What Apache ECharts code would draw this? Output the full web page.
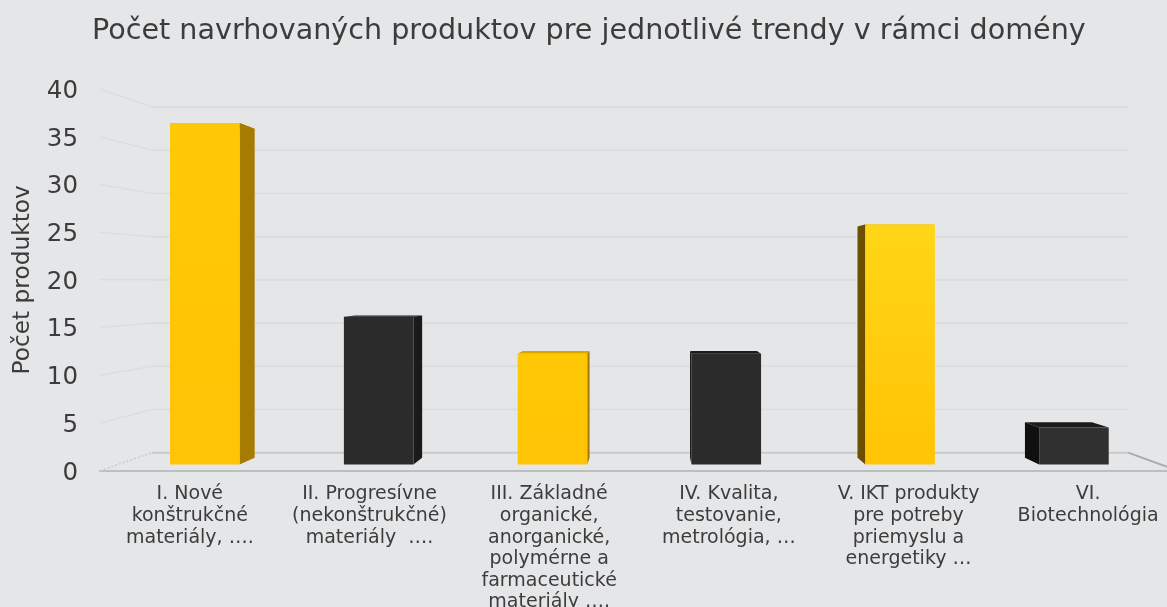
<!DOCTYPE html>
<html>
<head>
<meta charset="utf-8">
<style>
  html, body { margin: 0; padding: 0; background: #e5e6e8; }
  #chart { width: 1167px; height: 607px; }
</style>
<script src="https://cdn.jsdelivr.net/npm/echarts@6/dist/echarts.min.js"></script>
</head>
<body>
<div id="chart"></div>
<script>
const categories = [
  'I. Nové\nkonštrukčné\nmateriály, ….',
  'II. Progresívne\n(nekonštrukčné)\nmateriály  ….',
  'III. Základné\norganické,\nanorganické,\npolymérne a\nfarmaceutické\nmateriály ….',
  'IV. Kvalita,\ntestovanie,\nmetrológia, …',
  'V. IKT produkty\npre potreby\npriemyslu a\nenergetiky …',
  'VI.\nBiotechnológia'
];
const productCounts = [37, 16, 12, 12, 26, 4];
const yTicks = [0, 5, 10, 15, 20, 25, 30, 35, 40];

const fontName = 'DejaVu Sans';

// perspective of the fake 3d box (excel style), grid is the front plane
const vanishX = 651;
const vanishY = 279.85;
const backWall = 0.9056;
const barFront = 0.9675;
const barBack = 0.932;
const barWidth = 0.4;

function project(p, s) {
  return [vanishX + (p[0] - vanishX) * s, vanishY + (p[1] - vanishY) * s];
}

function renderWalls(params, api) {
  const v = api.value(0);
  const box = params.coordSys;
  const y = api.coord([0, v])[1];
  const left = project([box.x, y], backWall);
  const right = project([box.x + box.width, y], backWall);
  const lineColor = v === 0 ? '#c9cacb' : '#dcddde';
  const children = [
    { type: 'line', shape: { x1: left[0], y1: left[1], x2: right[0], y2: right[1] },
      style: { stroke: lineColor, lineWidth: 2 } },
    { type: 'line', shape: { x1: box.x, y1: y, x2: left[0], y2: left[1] },
      style: { stroke: v === 0 ? '#c9cacb' : '#dcddde', lineWidth: 1.5, lineDash: v === 0 ? [2, 2] : null } }
  ];
  if (v === 0) {
    children.push({ type: 'line', shape: { x1: right[0], y1: right[1], x2: box.x + box.width, y2: y },
      style: { stroke: '#a9aaab', lineWidth: 2 } });
  }
  return { type: 'group', children: children };
}

function poly(points, fill) {
  return { type: 'polygon', shape: { points: points }, style: { fill: fill } };
}

function renderBar(params, api) {
  const i = api.value(0);
  const center = api.coord([i, 0]);
  const top = api.coord([i, api.value(1)]);
  const half = api.size([1, 0])[0] * barWidth / 2;
  const yellow = i % 2 === 0;

  const corner = (x, y, s) => project([center[0] + x * half, y], s);
  const frontFill = yellow
    ? new echarts.graphic.LinearGradient(0, 0, 0, 1, [
        { offset: 0, color: i === 4 ? '#ffd617' : '#ffc805' },
        { offset: 1, color: '#ffc405' }
      ])
    : (i === 5 ? '#303030' : '#2b2b2b');

  const sideDir = center[0] < vanishX ? 1 : -1;
  const sideFill = yellow ? (sideDir > 0 ? '#a67c00' : '#6b5000') : (sideDir > 0 ? '#1a1a1a' : '#101010');
  const topFill = yellow ? '#d9a700' : '#1b1b1b';

  return {
    type: 'group',
    children: [
      poly([corner(-1, top[1], barFront), corner(1, top[1], barFront), corner(1, top[1], barBack), corner(-1, top[1], barBack)], topFill),
      poly([corner(sideDir, top[1], barFront), corner(sideDir, top[1], barBack), corner(sideDir, center[1], barBack), corner(sideDir, center[1], barFront)], sideFill),
      poly([corner(-1, top[1], barFront), corner(1, top[1], barFront), corner(1, center[1], barFront), corner(-1, center[1], barFront)], frontFill)
    ]
  };
}

const chart = echarts.init(document.getElementById('chart'));

chart.setOption({
  backgroundColor: '#e5e6e8',
  animation: false,
  textStyle: { fontFamily: fontName },
  title: {
    text: 'Počet navrhovaných produktov pre jednotlivé trendy v rámci domény',
    left: 92,
    top: 17,
    padding: 0,
    textStyle: { fontFamily: fontName, fontWeight: 'normal', fontSize: 28.6, color: '#3c3c3c' }
  },
  // grid runs past the right edge on purpose, labels may leave the bounds too
  grid: { left: 100, top: 89, width: 1078, height: 381.7, outerBoundsMode: 'none' },
  xAxis: {
    type: 'category',
    data: categories,
    axisTick: { show: false },
    axisLine: { show: true, lineStyle: { color: '#bdbebf', width: 2 } },
    axisLabel: { interval: 0, color: '#3c3c3c', fontFamily: fontName, fontSize: 19, lineHeight: 21.6, margin: 13, verticalAlign: 'top' }
  },
  yAxis: {
    type: 'value',
    min: 0,
    max: 40,
    interval: 5,
    name: 'Počet produktov',
    nameLocation: 'middle',
    nameGap: 66,
    nameTextStyle: { color: '#3c3c3c', fontFamily: fontName, fontSize: 23.3 },
    axisLine: { show: false },
    axisTick: { show: false },
    splitLine: { show: false },
    axisLabel: {
      margin: 22,
      formatter: '{tick|{value}}',
      rich: { tick: { color: '#3c3c3c', fontFamily: fontName, fontSize: 24.5, padding: [5, 0, 0, 0] } }
    }
  },
  series: [
    { type: 'custom', renderItem: renderWalls, data: yTicks.map(v => [v]), encode: { y: 0 }, silent: true, z: 1 },
    { type: 'custom', renderItem: renderBar, data: productCounts.map((v, i) => [i, v]), encode: { x: 0, y: 1 }, z: 2 }
  ]
});
</script>
</body>
</html>
